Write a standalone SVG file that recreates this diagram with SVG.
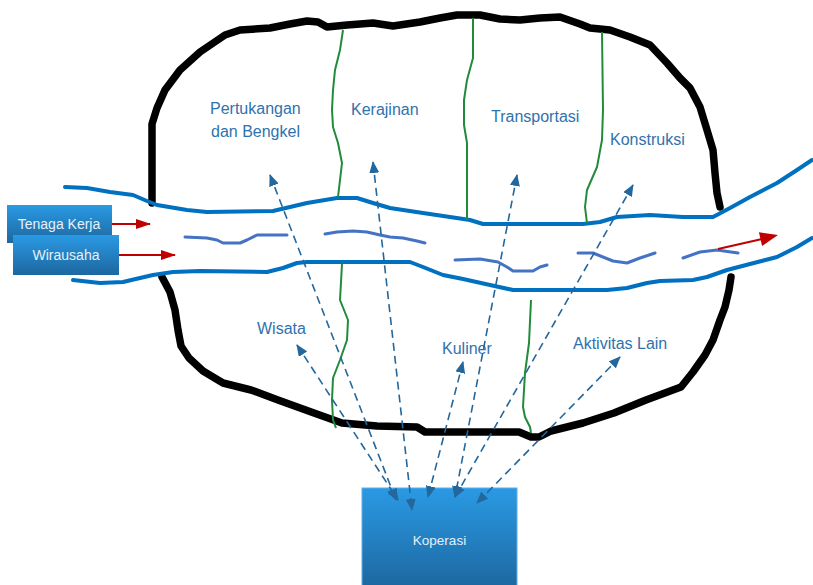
<svg xmlns="http://www.w3.org/2000/svg" width="813" height="585" viewBox="0 0 813 585">
<defs>
<linearGradient id="boxg" x1="0" y1="0" x2="0" y2="1">
<stop offset="0" stop-color="#2A9AE4"/>
<stop offset="1" stop-color="#1D67A0"/>
</linearGradient>
<marker id="dh" markerUnits="userSpaceOnUse" markerWidth="12" markerHeight="10" viewBox="0 0 12 10" refX="11" refY="5" orient="auto-start-reverse">
<path d="M0,0 L12,5 L0,10 Z" fill="#23679C"/>
</marker>
<marker id="rh" markerUnits="userSpaceOnUse" markerWidth="15" markerHeight="10" viewBox="0 0 15 10" refX="14" refY="5" orient="auto">
<path d="M0,0 L15,5 L0,10 Z" fill="#C00000"/>
</marker>
</defs>
<style>
.blk{fill:none;stroke:#000;stroke-width:7.5;stroke-linejoin:round;stroke-linecap:round}
.riv{fill:none;stroke:#0070C0;stroke-width:4;stroke-linejoin:round;stroke-linecap:round}
.flow{fill:none;stroke:#4472C4;stroke-width:3;stroke-linejoin:round;stroke-linecap:round}
.grn{fill:none;stroke:#228B3B;stroke-width:2;stroke-linejoin:round}
.dash{fill:none;stroke:#23679C;stroke-width:1.6;stroke-dasharray:8 5}
.red{fill:none;stroke:#C00000;stroke-width:2}
.lbl{font-family:"Liberation Sans",Arial,sans-serif;font-size:16px;fill:#2F72AD}
.btx{font-family:"Liberation Sans",Arial,sans-serif;font-size:14px;fill:#E6F0F8;text-anchor:middle}
</style>
<g id="outline">
<path class="blk" d="M152,203 L152,124 L157,108 L165,90 L180,70 L200,52 L225,35 L240,30 L270,28 L290,24 L307,21 L318,22 L327,27 L347,25 L373,23 L393,26 L420,22 L440,18 L457,15 L480,15 L500,19 L520,20 L540,18 L560,17 L580,24 L590,28 L610,30 L630,37 L650,45 L667,63 L680,78 L690,88 L700,107 L707,130 L713,150 L715,173 L717,193 L720,207"/>
<path class="blk" d="M162,277 L170,292 L175,310 L178,330 L181,346 L189,358 L203,371 L223,383 L251,390 L278,400 L314,413 L342,423 L377,426 L417,427 L425,432 L470,432 L519,432 L531,437 L539,437 L551,431 L583,423 L614,413 L646,400 L681,387 L693,372 L705,355 L713,340 L720,320 L725,307 L729,290 L731,277"/>
</g>
<g id="river">
<path class="riv" d="M65,187 L87,188 L110,192 L133,195 L147,201 L157,205 L187,210 L207,212 L273,211 L290,207 L307,203 L337,198 L357,198 L373,203 L390,208 L423,213 L450,217 L470,220 L483,224 L583,224 L600,222 L617,217 L650,215 L683,217 L713,217 L730,208 L750,197 L777,183 L797,170 L812,160"/>
<path class="riv" d="M73,280 L100,283 L123,282 L140,278 L153,275 L173,272 L200,271 L267,272 L283,268 L297,263 L307,262 L377,262 L410,262 L423,267 L443,275 L463,279 L490,285 L513,290 L607,290 L627,288 L647,283 L660,281 L693,280 L707,277 L727,270 L750,264 L777,257 L797,247 L812,238"/>
<path class="flow" d="M185,237 L207,238 L217,240 L223,243 L240,243 L247,240 L257,235 L287,235"/>
<path class="flow" d="M325,234 L337,232 L353,231 L367,232 L380,235 L390,237 L403,238 L417,241 L425,243"/>
<path class="flow" d="M455,260 L480,259 L498,262 L507,267 L513,271 L533,271 L540,267 L547,265"/>
<path class="flow" d="M578,253 L593,253 L613,261 L627,263 L640,258 L655,253"/>
<path class="flow" d="M683,258 L700,252 L717,250 L738,253"/>
</g>
<g id="dividers">
<path class="grn" d="M343,30 L340,50 L335,70 L333,90 L332,110 L333,127 L338,143 L342,163 L340,180 L338,197"/>
<path class="grn" d="M473,18 L473,58 L467,80 L464,100 L464,125 L467,143 L467,220"/>
<path class="grn" d="M602,32 L603,110 L602,140 L597,167 L587,190 L585,207 L587,223"/>
<path class="grn" d="M342,264 L340,300 L348,320 L347,340 L340,360 L333,378 L332,400 L333,420 L336,428"/>
<path class="grn" d="M531,300 L529,343 L525,373 L523,407 L525,417 L530,427 L531,433"/>
</g>
<g id="koperasi">
<rect x="362" y="488" width="155" height="100" fill="url(#boxg)" stroke="#5BB0EA" stroke-width="1"/>
<text class="btx" x="439.5" y="545" style="font-size:13.5px">Koperasi</text>
</g>
<g id="tenaga-kerja">
<rect x="7" y="205" width="105" height="38" fill="url(#boxg)"/>
<text class="btx" x="59" y="229">Tenaga Kerja</text>
</g>
<g id="wirausaha">
<rect x="13" y="235" width="106" height="40" fill="url(#boxg)"/>
<text class="btx" x="66" y="260">Wirausaha</text>
</g>
<g id="labels">
<g id="pertukangan"><text class="lbl" x="210" y="114">Pertukangan</text><text class="lbl" x="211" y="137">dan Bengkel</text></g>
<g id="kerajinan"><text class="lbl" x="351" y="115">Kerajinan</text></g>
<g id="transportasi"><text class="lbl" x="491" y="122">Transportasi</text></g>
<g id="konstruksi"><text class="lbl" x="610" y="145">Konstruksi</text></g>
<g id="wisata"><text class="lbl" x="257" y="334">Wisata</text></g>
<g id="kuliner"><text class="lbl" x="442" y="354">Kuliner</text></g>
<g id="aktivitas-lain"><text class="lbl" x="573" y="349">Aktivitas Lain</text></g>
</g>
<g id="connectors">
<path class="dash" d="M297,345 L398,500" marker-start="url(#dh)" marker-end="url(#dh)"/>
<path class="dash" d="M270,175 L396,500" marker-start="url(#dh)" marker-end="url(#dh)"/>
<path class="dash" d="M373,162 L412,510" marker-start="url(#dh)" marker-end="url(#dh)"/>
<path class="dash" d="M463,362 L428,497" marker-start="url(#dh)" marker-end="url(#dh)"/>
<path class="dash" d="M517,175 L455,497" marker-start="url(#dh)" marker-end="url(#dh)"/>
<path class="dash" d="M633,185 L455,497" marker-start="url(#dh)" marker-end="url(#dh)"/>
<path class="dash" d="M620,357 L477,503" marker-start="url(#dh)" marker-end="url(#dh)"/>
<path class="red" d="M112,224 L150,224" marker-end="url(#rh)"/>
<path class="red" d="M119,255 L175,255" marker-end="url(#rh)"/>
<path class="red" d="M718,249 L762,239" stroke-width="3"/>
<polygon points="778,235 762.1,245.9 758.9,232.3" fill="#C00000"/>
</g>
</svg>
